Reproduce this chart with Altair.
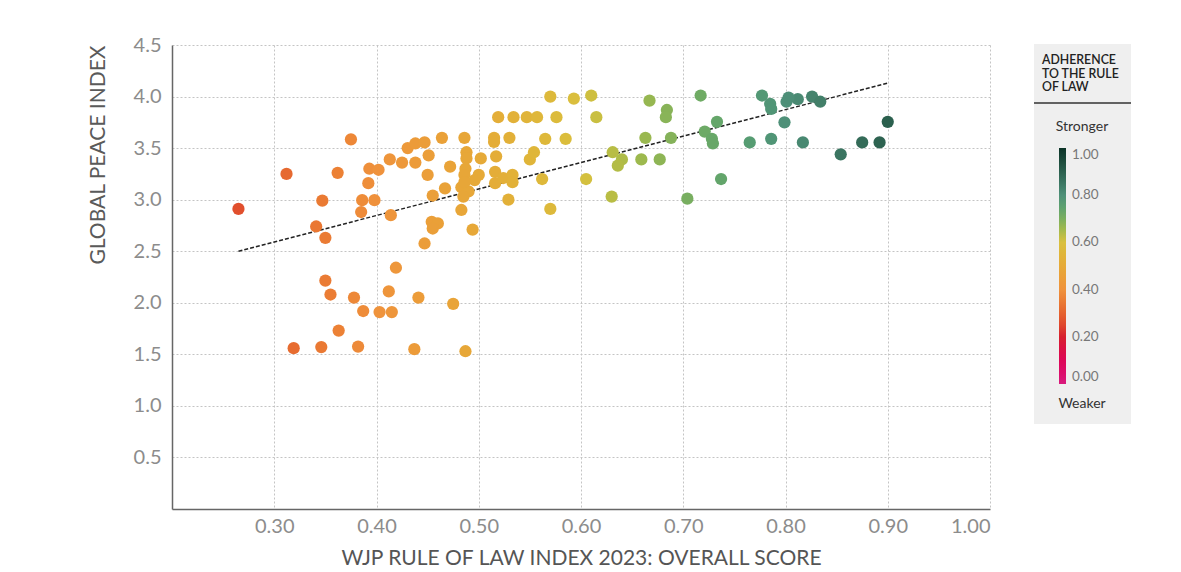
import altair as alt
import pandas as pd

# WJP Rule of Law Index 2023 overall score (x) and Global Peace Index (y)
rol = [0.265, 0.312, 0.375, 0.362, 0.347, 0.341, 0.350, 0.350, 0.355, 0.363,
       0.319, 0.346, 0.382, 0.378, 0.387, 0.403, 0.415, 0.412, 0.419, 0.441,
       0.437, 0.487, 0.475, 0.386, 0.398, 0.385, 0.414, 0.392, 0.393, 0.402,
       0.413, 0.4305, 0.438, 0.447, 0.464, 0.486, 0.515, 0.515, 0.530, 0.425,
       0.438, 0.451, 0.450, 0.472, 0.488, 0.488, 0.487, 0.486, 0.500, 0.496,
       0.502, 0.517, 0.516, 0.516, 0.524, 0.533, 0.533, 0.467, 0.483, 0.490,
       0.485, 0.455, 0.483, 0.529, 0.454, 0.460, 0.455, 0.494, 0.447, 0.486,
       0.570, 0.593, 0.610, 0.519, 0.534, 0.547, 0.557, 0.576, 0.615, 0.565,
       0.585, 0.550, 0.554, 0.562, 0.605, 0.570, 0.631, 0.640, 0.636, 0.630,
       0.667, 0.684, 0.683, 0.717, 0.733, 0.721, 0.728, 0.729, 0.688, 0.663,
       0.659, 0.677, 0.737, 0.704, 0.765, 0.777, 0.785, 0.786, 0.801, 0.812,
       0.826, 0.834, 0.799, 0.786, 0.817, 0.854, 0.875, 0.892, 0.900, 0.803]
gpi = [2.91, 3.25, 3.585, 3.26, 2.99, 2.74, 2.63, 2.215, 2.08, 1.73,
       1.56, 1.57, 1.575, 2.05, 1.92, 1.91, 1.91, 2.11, 2.34, 2.05,
       1.55, 1.53, 1.99, 2.995, 2.995, 2.88, 2.85, 3.16, 3.30, 3.29,
       3.39, 3.50, 3.545, 3.555, 3.60, 3.60, 3.60, 3.56, 3.60, 3.36,
       3.36, 3.43, 3.24, 3.32, 3.46, 3.40, 3.30, 3.24, 3.24, 3.19,
       3.40, 3.42, 3.27, 3.16, 3.21, 3.24, 3.17, 3.11, 3.12, 3.08,
       3.03, 3.04, 2.90, 3.00, 2.785, 2.77, 2.72, 2.71, 2.575, 3.17,
       4.00, 3.98, 4.01, 3.80, 3.80, 3.80, 3.80, 3.80, 3.80, 3.59,
       3.59, 3.39, 3.46, 3.20, 3.20, 2.91, 3.46, 3.39, 3.33, 3.03,
       3.96, 3.87, 3.80, 4.01, 3.755, 3.66, 3.59, 3.545, 3.60, 3.60,
       3.39, 3.39, 3.20, 3.01, 3.555, 4.01, 3.93, 3.88, 3.95, 3.975,
       4.00, 3.95, 3.75, 3.59, 3.555, 3.44, 3.555, 3.555, 3.755, 3.99]

trend_x = [0.265, 0.900]
trend_y = [2.50, 4.13]

x_ticks = [0.3, 0.4, 0.5, 0.6, 0.7, 0.8, 0.9, 1.0]
y_ticks = [0.5, 1.0, 1.5, 2.0, 2.5, 3.0, 3.5, 4.0, 4.5]
legend_values = [0.0, 0.2, 0.4, 0.6, 0.8, 1.0]
legend_colors = ["#d81b7d", "#d7202e", "#ef923c", "#d9c03e", "#4e9078", "#0b3327"]
legend_title = ["ADHERENCE", "TO THE RULE", "OF LAW"]
x_title = "WJP RULE OF LAW INDEX 2023: OVERALL SCORE"
y_title = "GLOBAL PEACE INDEX"

FONT = "Lato"
LABEL_COLOR = "#8c8c8c"

df = pd.DataFrame({"rol": rol, "gpi": gpi})
trend = pd.DataFrame({"rol": trend_x, "gpi": trend_y})
one = pd.DataFrame({"k": [0]})

xscale = alt.Scale(domain=[0.2, 1.0], nice=False, zero=False)
yscale = alt.Scale(domain=[0, 4.5], nice=False)

xaxis = alt.Axis(values=x_ticks, format=".2f", title=x_title,
                 grid=True, gridDash=[2, 2], gridColor="#c4c4c4", ticks=False,
                 domainColor="#666666", domainWidth=1.5,
                 labelFont=FONT, labelFontSize=20, labelColor=LABEL_COLOR, labelPadding=7,
                 titleFont=FONT, titleFontSize=21, titleFontWeight="normal", titleColor="#555555",
                 titlePadding=11)
yaxis = alt.Axis(values=y_ticks, format=".1f", title=y_title,
                 grid=True, gridDash=[2, 2], gridColor="#c4c4c4", ticks=False,
                 domainColor="#666666", domainWidth=1.5,
                 labelFont=FONT, labelFontSize=20, labelColor=LABEL_COLOR, labelPadding=11,
                 titleFont=FONT, titleFontSize=21, titleFontWeight="normal", titleColor="#5a5a5a",
                 titleAnchor="end", titlePadding=25)

points = alt.Chart(df).mark_circle(size=150, opacity=1).encode(
    x=alt.X("rol:Q", scale=xscale, axis=xaxis),
    y=alt.Y("gpi:Q", scale=yscale, axis=yaxis),
    color=alt.Color("rol:Q",
                    scale=alt.Scale(domain=legend_values, range=legend_colors),
                    legend=alt.Legend(orient="none", legendX=887, legendY=103,
                                      direction="vertical", gradientLength=236,
                                      gradientThickness=7, gradientStrokeWidth=0,
                                      values=legend_values, format=".2f",
                                      labelFont=FONT, labelFontSize=13.5, labelColor="#777777",
                                      labelOffset=6, padding=0, title=None)),
)

line = alt.Chart(trend).mark_line(color="#222222", strokeWidth=1.5, strokeDash=[4, 2]).encode(
    x=alt.X("rol:Q", scale=xscale, axis=xaxis),
    y=alt.Y("gpi:Q", scale=yscale, axis=yaxis),
)

bg = alt.Chart(one).mark_rect(color="#efefef").encode(
    x=alt.value(862), x2=alt.value(959), y=alt.value(-1), y2=alt.value(379))

title_layers = []
for i, t in enumerate(legend_title):
    title_layers.append(
        alt.Chart(one).mark_text(text=t, font=FONT, fontSize=12.3, fontWeight=600,
                                 color="#222222", align="left", baseline="middle")
        .encode(x=alt.value(870), y=alt.value(15 + 13.5 * i)))

sep = alt.Chart(one).mark_rule(color="#333333", strokeWidth=1.5).encode(
    x=alt.value(862), x2=alt.value(959), y=alt.value(58))

stronger = alt.Chart(one).mark_text(text="Stronger", font=FONT, fontSize=14, color="#333333",
                                    align="center", baseline="middle").encode(
    x=alt.value(910), y=alt.value(82))
weaker = alt.Chart(one).mark_text(text="Weaker", font=FONT, fontSize=14, color="#333333",
                                  align="center", baseline="middle").encode(
    x=alt.value(910), y=alt.value(359))

chart = alt.layer(bg, line, points, sep, stronger, weaker, *title_layers).properties(
    width=818, height=464,
    autosize=alt.AutoSizeParams(type="none"),
    padding={"left": 164, "top": 37, "right": 160, "bottom": 60},
    background="white",
).configure_view(strokeWidth=0)

chart.save("out.html", embed_options={"renderer": "svg", "actions": False})
